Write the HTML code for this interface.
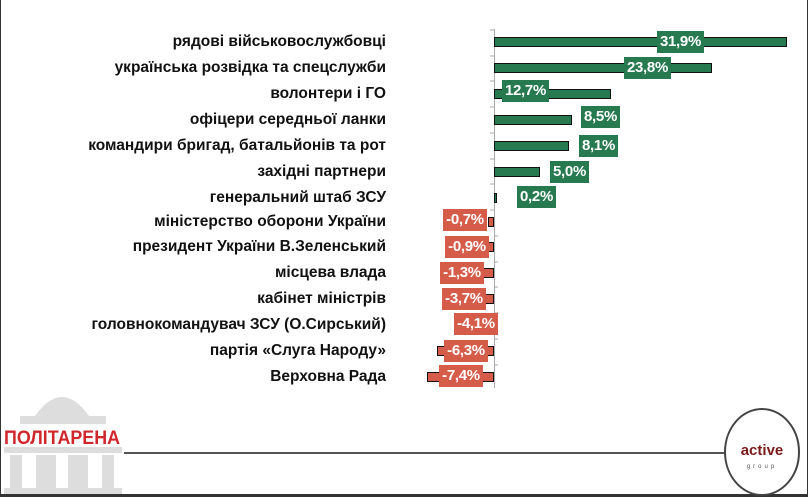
<!DOCTYPE html>
<html><head><meta charset="utf-8"><style>
body{margin:0;width:808px;height:497px;background:#fff;overflow:hidden;position:relative;font-family:"Liberation Sans",sans-serif}
.frame{position:absolute;left:0;top:0;width:806px;height:494px;border-left:1px solid #333;border-right:1px solid #333;border-bottom:3px solid #333}
.lab{position:absolute;right:422px;font-weight:bold;font-size:15.5px;color:#111;white-space:nowrap;line-height:18px}
.bar{position:absolute;height:10px;border:1px solid #111;box-sizing:border-box}
.g{background:#277a50}.r{background:#d65c4a}
.box{position:absolute;height:22px;color:#fff;font-weight:bold;font-size:15px;line-height:22px;text-align:center;letter-spacing:-0.3px}
</style></head><body>
<div class="frame"></div>
<svg style="position:absolute;left:0;top:0" width="808" height="497">
<line x1="494.5" y1="29" x2="494.5" y2="388" stroke="#aaa"/>
<g stroke="#aaa">
<line x1="490" x2="494" y1="30" y2="30"/><line x1="490" x2="494" y1="56" y2="56"/><line x1="490" x2="494" y1="81" y2="81"/><line x1="490" x2="494" y1="107" y2="107"/><line x1="490" x2="494" y1="133" y2="133"/><line x1="490" x2="494" y1="159" y2="159"/><line x1="490" x2="494" y1="184" y2="184"/><line x1="490" x2="494" y1="210" y2="210"/><line x1="494" x2="498" y1="236" y2="236"/><line x1="494" x2="498" y1="262" y2="262"/><line x1="494" x2="498" y1="287" y2="287"/><line x1="494" x2="498" y1="313" y2="313"/><line x1="494" x2="498" y1="339" y2="339"/><line x1="494" x2="498" y1="365" y2="365"/>
</g>
<line x1="124" y1="453" x2="728" y2="453" stroke="#555" stroke-width="2"/>
<ellipse cx="762" cy="452" rx="37" ry="43" fill="#fff" stroke="#444" stroke-width="2"/>
<text x="762" y="455" text-anchor="middle" font-family="Liberation Sans" font-weight="bold" font-size="15" fill="#7a1a1a">active</text>
<text x="762" y="468" text-anchor="middle" font-family="Liberation Sans" font-size="6" letter-spacing="3" fill="#555">group</text>
<g fill="#ddd">
<path d="M35 416 Q62 378 89 416Z"/><rect x="20" y="416" width="86" height="8"/><rect x="4" y="447" width="118" height="6"/>
<rect x="10" y="455" width="12" height="33"/><rect x="36" y="455" width="20" height="33"/><rect x="68" y="455" width="20" height="33"/><rect x="102" y="455" width="12" height="33"/><rect x="4" y="488" width="118" height="6"/>
</g>
<text x="4" y="444" font-family="Liberation Sans" font-weight="bold" font-size="19" fill="#d0272d" textLength="116" lengthAdjust="spacingAndGlyphs">ПОЛІТАРЕНА</text>
</svg>
<div class="lab" style="top:33px">рядові військовослужбовці</div>
<div class="lab" style="top:59px">українська розвідка та спецслужби</div>
<div class="lab" style="top:85px">волонтери і ГО</div>
<div class="lab" style="top:111px">офіцери середньої ланки</div>
<div class="lab" style="top:137px">командири бригад, батальйонів та рот</div>
<div class="lab" style="top:163px">західні партнери</div>
<div class="lab" style="top:189px">генеральний штаб ЗСУ</div>
<div class="lab" style="top:213px">міністерство оборони України</div>
<div class="lab" style="top:238px">президент України В.Зеленський</div>
<div class="lab" style="top:264px">місцева влада</div>
<div class="lab" style="top:290px">кабінет міністрів</div>
<div class="lab" style="top:316px">головнокомандувач ЗСУ (О.Сирський)</div>
<div class="lab" style="top:342px">партія «Слуга Народу»</div>
<div class="lab" style="top:368px">Верховна Рада</div>

<div class="bar g" style="left:494px;width:293px;top:37px"></div>
<div class="bar g" style="left:494px;width:218px;top:63px"></div>
<div class="bar g" style="left:494px;width:117px;top:89px"></div>
<div class="bar g" style="left:494px;width:78px;top:115px"></div>
<div class="bar g" style="left:494px;width:75px;top:141px"></div>
<div class="bar g" style="left:494px;width:46px;top:167px"></div>
<div class="bar g" style="left:494px;width:3px;top:193px"></div>
<div class="bar r" style="left:488px;width:6px;top:217px"></div>
<div class="bar r" style="left:486px;width:8px;top:242px"></div>
<div class="bar r" style="left:482px;width:12px;top:268px"></div>
<div class="bar r" style="left:460px;width:34px;top:294px"></div>
<div class="bar r" style="left:456px;width:38px;top:320px"></div>
<div class="bar r" style="left:437px;width:57px;top:346px"></div>
<div class="bar r" style="left:427px;width:67px;top:372px"></div>

<div class="box g" style="left:657px;width:47px;top:31px">31,9%</div>
<div class="box g" style="left:624px;width:47px;top:57px">23,8%</div>
<div class="box g" style="left:502px;width:47px;top:80px">12,7%</div>
<div class="box g" style="left:581px;width:39px;top:106px">8,5%</div>
<div class="box g" style="left:579px;width:39px;top:135px">8,1%</div>
<div class="box g" style="left:550px;width:39px;top:161px">5,0%</div>
<div class="box g" style="left:517px;width:39px;top:186px">0,2%</div>
<div class="box r" style="left:443px;width:44px;top:209px">-0,7%</div>
<div class="box r" style="left:445px;width:44px;top:236px">-0,9%</div>
<div class="box r" style="left:440px;width:44px;top:262px">-1,3%</div>
<div class="box r" style="left:442px;width:44px;top:288px">-3,7%</div>
<div class="box r" style="left:454px;width:44px;top:313px">-4,1%</div>
<div class="box r" style="left:444px;width:44px;top:340px">-6,3%</div>
<div class="box r" style="left:439px;width:44px;top:365px">-7,4%</div>
</body></html>
